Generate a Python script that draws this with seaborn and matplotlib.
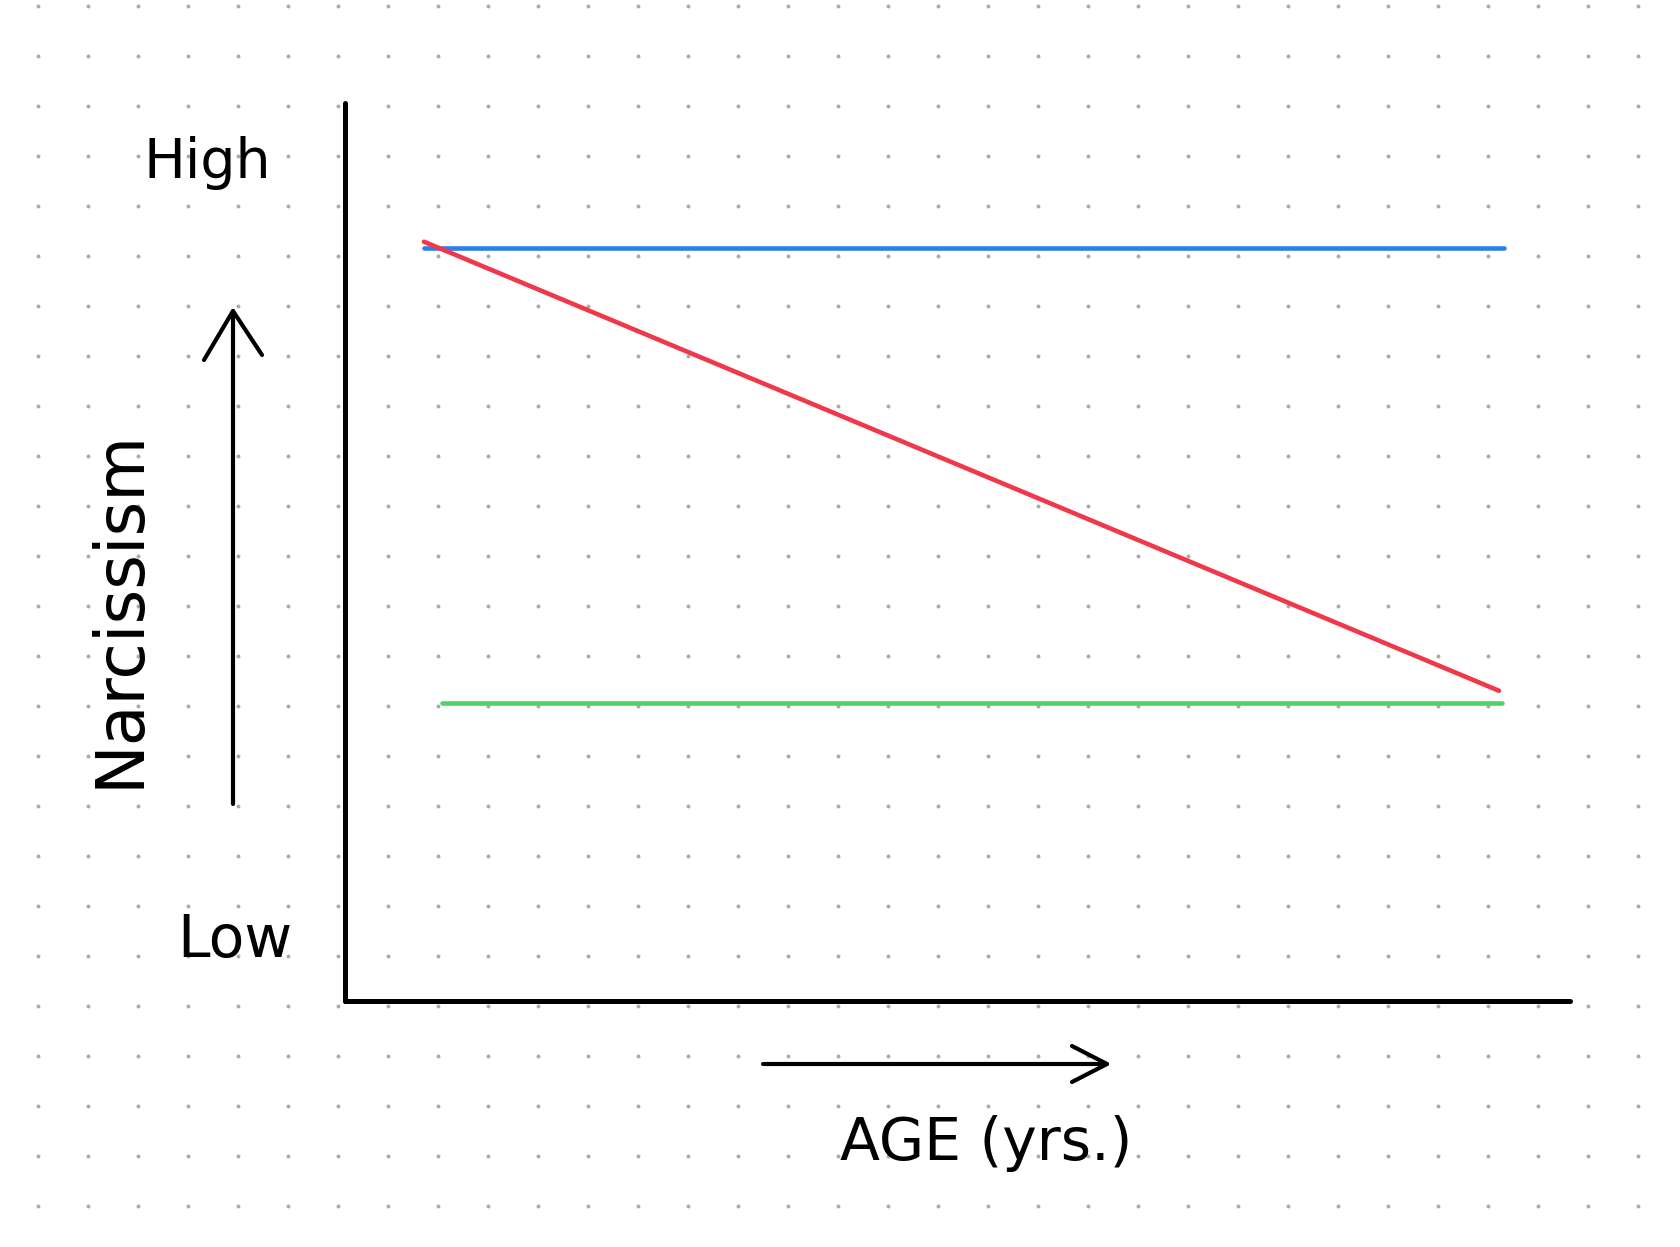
import numpy as np
import pandas as pd
import matplotlib
matplotlib.use("Agg")
import matplotlib.pyplot as plt
import seaborn as sns

# ---- data (arbitrary 0-100 units) ----
series_names = ["stable", "declining", "low"]
age_start = [6.45, 6.45, 7.9]
age_end = [94.6, 94.2, 94.45]
narc_start = [83.9, 84.55, 33.15]
narc_end = [83.9, 34.55, 33.15]
colors = {"stable": "#2b7fea", "declining": "#f0384b", "low": "#52d06a"}

rows = []
for s, x0, x1, y0, y1 in zip(series_names, age_start, age_end, narc_start, narc_end):
    rows.append({"series": s, "age": x0, "narcissism": y0})
    rows.append({"series": s, "age": x1, "narcissism": y1})
df = pd.DataFrame(rows)

sns.set_theme(style="white")
plt.rcParams["font.family"] = ["DejaVu Sans"]

W, H = 1681, 1247
fig = plt.figure(figsize=(W / 100, H / 100), dpi=100)
fig.patch.set_facecolor("white")

# background / annotation layer in pixel coordinates
bg = fig.add_axes([0, 0, 1, 1], zorder=0)
bg.set_xlim(0, W)
bg.set_ylim(H, 0)
bg.axis("off")
gx, gy = np.meshgrid(np.arange(37.7, W, 50), np.arange(5.7, H, 50))
bg.scatter(gx.ravel(), gy.ravel(), s=8, color="#aaaaaa", linewidths=0)

# main chart axes
left, right, top, bottom = 345, 1570, 103, 1001
ax = fig.add_axes([left / W, 1 - bottom / H, (right - left) / W, (bottom - top) / H], zorder=1)
ax.set_facecolor("none")
sns.lineplot(data=df, x="age", y="narcissism", hue="series", hue_order=["stable", "low", "declining"],
             palette=colors, linewidth=3.3, legend=False, ax=ax, solid_capstyle="round")
ax.set_xlim(0, 100)
ax.set_ylim(0, 100)
ax.set_xticks([])
ax.set_yticks([])
ax.set_xlabel("")
ax.set_ylabel("")
for side in ["top", "right"]:
    ax.spines[side].set_visible(False)
for side in ["left", "bottom"]:
    ax.spines[side].set_color("black")
    ax.spines[side].set_linewidth(3.6)
    ax.spines[side].set_capstyle("round")

# annotations
ink = dict(color="black", lw=3.0, solid_capstyle="round", solid_joinstyle="round")
# vertical arrow
bg.plot([233, 233], [804, 311], **ink)
bg.plot([204, 233, 262], [360, 311, 355], **ink)
# horizontal arrow
bg.plot([763, 1107], [1064, 1064], **ink)
bg.plot([1072, 1107, 1072], [1046, 1064, 1082], **ink)

bg.text(207, 163, "High", fontsize=40, ha="center", va="center", color="black")
bg.text(235, 940, "Low", fontsize=42, ha="center", va="center", color="black")
bg.text(120, 608, "Narcissism", fontsize=48, ha="center", va="center", rotation=90, color="black")
bg.text(986, 1144, "AGE (yrs.)", fontsize=42, ha="center", va="center", color="black")

fig.savefig("out.png", dpi=100, facecolor="white")
